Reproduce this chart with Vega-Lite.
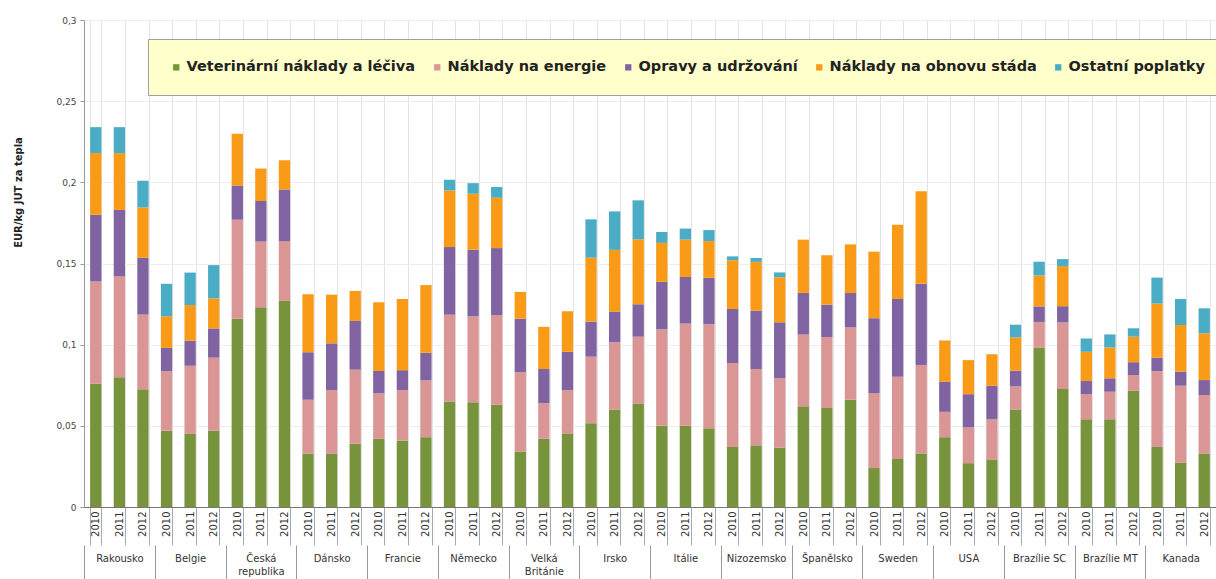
{
  "$schema": "https://vega.github.io/schema/vega-lite/v6.json",
  "autosize": "none",
  "width": 1132,
  "height": 487,
  "padding": {"left": 84, "top": 20, "right": 0, "bottom": 72},
  "background": "white",
  "config": {
    "view": {"stroke": null},
    "font": "DejaVu Sans"
  },
  "data": {
    "values": [
      {"c": "Rakousko", "y": "2010", "k": "Rakousko|2010", "v1": 0.076, "v2": 0.063, "v3": 0.041, "v4": 0.038, "v5": 0.016},
      {"c": "Rakousko", "y": "2011", "k": "Rakousko|2011", "v1": 0.080, "v2": 0.062, "v3": 0.041, "v4": 0.035, "v5": 0.016},
      {"c": "Rakousko", "y": "2012", "k": "Rakousko|2012", "v1": 0.0725, "v2": 0.046, "v3": 0.035, "v4": 0.031, "v5": 0.0165},
      {"c": "Belgie", "y": "2010", "k": "Belgie|2010", "v1": 0.047, "v2": 0.0366, "v3": 0.0144, "v4": 0.0195, "v5": 0.020},
      {"c": "Belgie", "y": "2011", "k": "Belgie|2011", "v1": 0.045, "v2": 0.042, "v3": 0.0154, "v4": 0.022, "v5": 0.020},
      {"c": "Belgie", "y": "2012", "k": "Belgie|2012", "v1": 0.047, "v2": 0.045, "v3": 0.018, "v4": 0.0185, "v5": 0.0205},
      {"c": "Česká republika", "y": "2010", "k": "Česká republika|2010", "v1": 0.116, "v2": 0.061, "v3": 0.021, "v4": 0.032, "v5": 0},
      {"c": "Česká republika", "y": "2011", "k": "Česká republika|2011", "v1": 0.123, "v2": 0.0405, "v3": 0.025, "v4": 0.020, "v5": 0},
      {"c": "Česká republika", "y": "2012", "k": "Česká republika|2012", "v1": 0.127, "v2": 0.0366, "v3": 0.032, "v4": 0.018, "v5": 0},
      {"c": "Dánsko", "y": "2010", "k": "Dánsko|2010", "v1": 0.033, "v2": 0.033, "v3": 0.0294, "v4": 0.0357, "v5": 0},
      {"c": "Dánsko", "y": "2011", "k": "Dánsko|2011", "v1": 0.033, "v2": 0.039, "v3": 0.0288, "v4": 0.030, "v5": 0},
      {"c": "Dánsko", "y": "2012", "k": "Dánsko|2012", "v1": 0.039, "v2": 0.0456, "v3": 0.030, "v4": 0.0185, "v5": 0},
      {"c": "Francie", "y": "2010", "k": "Francie|2010", "v1": 0.042, "v2": 0.028, "v3": 0.0138, "v4": 0.0423, "v5": 0},
      {"c": "Francie", "y": "2011", "k": "Francie|2011", "v1": 0.041, "v2": 0.031, "v3": 0.0123, "v4": 0.0438, "v5": 0},
      {"c": "Francie", "y": "2012", "k": "Francie|2012", "v1": 0.043, "v2": 0.035, "v3": 0.017, "v4": 0.0417, "v5": 0},
      {"c": "Německo", "y": "2010", "k": "Německo|2010", "v1": 0.065, "v2": 0.0534, "v3": 0.0417, "v4": 0.0349, "v5": 0.0066},
      {"c": "Německo", "y": "2011", "k": "Německo|2011", "v1": 0.0645, "v2": 0.053, "v3": 0.041, "v4": 0.0345, "v5": 0.0065},
      {"c": "Německo", "y": "2012", "k": "Německo|2012", "v1": 0.063, "v2": 0.055, "v3": 0.0415, "v4": 0.031, "v5": 0.0066},
      {"c": "Velká Británie", "y": "2010", "k": "Velká Británie|2010", "v1": 0.034, "v2": 0.049, "v3": 0.033, "v4": 0.0165, "v5": 0},
      {"c": "Velká Británie", "y": "2011", "k": "Velká Británie|2011", "v1": 0.042, "v2": 0.022, "v3": 0.021, "v4": 0.026, "v5": 0},
      {"c": "Velká Británie", "y": "2012", "k": "Velká Británie|2012", "v1": 0.045, "v2": 0.027, "v3": 0.0236, "v4": 0.025, "v5": 0},
      {"c": "Irsko", "y": "2010", "k": "Irsko|2010", "v1": 0.0516, "v2": 0.041, "v3": 0.0216, "v4": 0.0394, "v5": 0.0236},
      {"c": "Irsko", "y": "2011", "k": "Irsko|2011", "v1": 0.060, "v2": 0.0414, "v3": 0.019, "v4": 0.038, "v5": 0.0237},
      {"c": "Irsko", "y": "2012", "k": "Irsko|2012", "v1": 0.0635, "v2": 0.0414, "v3": 0.020, "v4": 0.040, "v5": 0.024},
      {"c": "Itálie", "y": "2010", "k": "Itálie|2010", "v1": 0.050, "v2": 0.0594, "v3": 0.0293, "v4": 0.024, "v5": 0.0067},
      {"c": "Itálie", "y": "2011", "k": "Itálie|2011", "v1": 0.050, "v2": 0.063, "v3": 0.0287, "v4": 0.023, "v5": 0.0068},
      {"c": "Itálie", "y": "2012", "k": "Itálie|2012", "v1": 0.0485, "v2": 0.064, "v3": 0.0287, "v4": 0.0226, "v5": 0.0068},
      {"c": "Nizozemsko", "y": "2010", "k": "Nizozemsko|2010", "v1": 0.037, "v2": 0.0517, "v3": 0.0333, "v4": 0.030, "v5": 0.0024},
      {"c": "Nizozemsko", "y": "2011", "k": "Nizozemsko|2011", "v1": 0.038, "v2": 0.047, "v3": 0.036, "v4": 0.030, "v5": 0.0024},
      {"c": "Nizozemsko", "y": "2012", "k": "Nizozemsko|2012", "v1": 0.0366, "v2": 0.0427, "v3": 0.0345, "v4": 0.0277, "v5": 0.003},
      {"c": "Španělsko", "y": "2010", "k": "Španělsko|2010", "v1": 0.062, "v2": 0.0442, "v3": 0.0257, "v4": 0.0328, "v5": 0},
      {"c": "Španělsko", "y": "2011", "k": "Španělsko|2011", "v1": 0.061, "v2": 0.0437, "v3": 0.020, "v4": 0.0304, "v5": 0},
      {"c": "Španělsko", "y": "2012", "k": "Španělsko|2012", "v1": 0.066, "v2": 0.0446, "v3": 0.0212, "v4": 0.030, "v5": 0},
      {"c": "Sweden", "y": "2010", "k": "Sweden|2010", "v1": 0.024, "v2": 0.046, "v3": 0.0463, "v4": 0.041, "v5": 0},
      {"c": "Sweden", "y": "2011", "k": "Sweden|2011", "v1": 0.0296, "v2": 0.0507, "v3": 0.0479, "v4": 0.0456, "v5": 0},
      {"c": "Sweden", "y": "2012", "k": "Sweden|2012", "v1": 0.033, "v2": 0.0545, "v3": 0.050, "v4": 0.057, "v5": 0},
      {"c": "USA", "y": "2010", "k": "USA|2010", "v1": 0.043, "v2": 0.0156, "v3": 0.0185, "v4": 0.0255, "v5": 0},
      {"c": "USA", "y": "2011", "k": "USA|2011", "v1": 0.027, "v2": 0.022, "v3": 0.0205, "v4": 0.021, "v5": 0},
      {"c": "USA", "y": "2012", "k": "USA|2012", "v1": 0.029, "v2": 0.025, "v3": 0.0207, "v4": 0.0194, "v5": 0},
      {"c": "Brazílie SC", "y": "2010", "k": "Brazílie SC|2010", "v1": 0.060, "v2": 0.0143, "v3": 0.0097, "v4": 0.0205, "v5": 0.0078},
      {"c": "Brazílie SC", "y": "2011", "k": "Brazílie SC|2011", "v1": 0.098, "v2": 0.016, "v3": 0.0096, "v4": 0.019, "v5": 0.0085},
      {"c": "Brazílie SC", "y": "2012", "k": "Brazílie SC|2012", "v1": 0.0727, "v2": 0.041, "v3": 0.010, "v4": 0.0247, "v5": 0.0043},
      {"c": "Brazílie MT", "y": "2010", "k": "Brazílie MT|2010", "v1": 0.054, "v2": 0.0154, "v3": 0.0082, "v4": 0.018, "v5": 0.0082},
      {"c": "Brazílie MT", "y": "2011", "k": "Brazílie MT|2011", "v1": 0.054, "v2": 0.017, "v3": 0.0083, "v4": 0.019, "v5": 0.008},
      {"c": "Brazílie MT", "y": "2012", "k": "Brazílie MT|2012", "v1": 0.0717, "v2": 0.0096, "v3": 0.0079, "v4": 0.0157, "v5": 0.0052},
      {"c": "Kanada", "y": "2010", "k": "Kanada|2010", "v1": 0.037, "v2": 0.0466, "v3": 0.0084, "v4": 0.0333, "v5": 0.016},
      {"c": "Kanada", "y": "2011", "k": "Kanada|2011", "v1": 0.0273, "v2": 0.0474, "v3": 0.0087, "v4": 0.0287, "v5": 0.016},
      {"c": "Kanada", "y": "2012", "k": "Kanada|2012", "v1": 0.033, "v2": 0.036, "v3": 0.0092, "v4": 0.0288, "v5": 0.0154}
    ]
  },
  "transform": [
    {"fold": ["v1", "v2", "v3", "v4", "v5"], "as": ["cat", "val"]}
  ],
  "layer": [
    {
      "mark": {"type": "bar"},
      "encoding": {
        "x": {
          "field": "k",
          "type": "nominal",
          "sort": null,
          "scale": {"paddingInner": 0.52, "paddingOuter": 0.26},
          "axis": {
            "orient": "bottom",
            "title": null,
            "labelExpr": "split(datum.value, '|')[1]",
            "labelAngle": -90,
            "labelAlign": "right",
            "labelBaseline": "middle",
            "labelFont": "DejaVu Sans",
            "labelFontSize": 10,
            "labelColor": "#333",
            "labelPadding": -34,
            "tickBand": "extent",
            "tickSize": 38,
            "tickColor": "#aaaaaa",
            "domainColor": "#777777",
            "grid": true,
            "gridColor": "#e3e3e3"
          }
        },
        "y": {
          "field": "val",
          "type": "quantitative",
          "stack": "zero",
          "scale": {"domain": [0, 0.3], "nice": false},
          "axis": {
            "values": [0, 0.05, 0.1, 0.15, 0.2, 0.25, 0.3],
            "labelExpr": "replace(format(datum.value, '.2~f'), '.', ',')",
            "title": "EUR/kg JUT za tepla",
            "titleFont": "DejaVu Sans",
            "titleFontSize": 10,
            "titleFontWeight": "bold",
            "titleColor": "#222",
            "titleX": -61,
            "titleY": 172,
            "labelFont": "DejaVu Sans",
            "labelFontSize": 9,
            "labelColor": "#444",
            "labelPadding": 4,
            "tickSize": 4,
            "tickColor": "#999999",
            "domainColor": "#999999",
            "grid": true,
            "gridColor": "#ededed"
          }
        },
        "color": {
          "field": "cat",
          "type": "nominal",
          "scale": {
            "domain": ["v1", "v2", "v3", "v4", "v5"],
            "range": ["#77933C", "#D99694", "#8064A2", "#F99B16", "#4BACC6"]
          },
          "legend": {
            "title": null,
            "orient": "none",
            "legendX": 64,
            "legendY": 19,
            "direction": "horizontal",
            "fillColor": "#FFFFCC",
            "strokeColor": "#A0A0A0",
            "padding": 21,
            "labelExpr": "datum.value == 'v1' ? 'Veterinární náklady a léčiva' : datum.value == 'v2' ? 'Náklady na energie' : datum.value == 'v3' ? 'Opravy a udržování' : datum.value == 'v4' ? 'Náklady na obnovu stáda' : 'Ostatní poplatky'",
            "labelFont": "DejaVu Sans",
            "labelFontSize": 14.5,
            "labelFontWeight": "bold",
            "labelColor": "#222",
            "labelLimit": 400,
            "labelOffset": 3,
            "symbolType": "square",
            "symbolSize": 40,
            "symbolStrokeWidth": 0,
            "columnPadding": 14
          }
        },
        "order": {"field": "cat", "sort": "ascending"}
      }
    },
    {
      "mark": {"type": "bar", "opacity": 0},
      "encoding": {
        "x": {
          "field": "c",
          "type": "nominal",
          "sort": null,
          "scale": {"paddingInner": 0, "paddingOuter": 0},
          "axis": {
            "orient": "bottom",
            "offset": 38,
            "title": null,
            "domain": false,
            "grid": false,
            "tickBand": "extent",
            "tickSize": 36,
            "tickColor": "#999999",
            "labelAngle": 0,
            "labelPadding": -28,
            "labelBaseline": "top",
            "labelLineHeight": 13,
            "labelFont": "DejaVu Sans",
            "labelFontSize": 10,
            "labelColor": "#333",
            "labelExpr": "datum.value == 'Česká republika' ? ['Česká', 'republika'] : datum.value == 'Velká Británie' ? ['Velká', 'Británie'] : datum.value"
          }
        }
      }
    }
  ],
  "resolve": {"scale": {"x": "independent"}, "axis": {"x": "independent"}}
}
